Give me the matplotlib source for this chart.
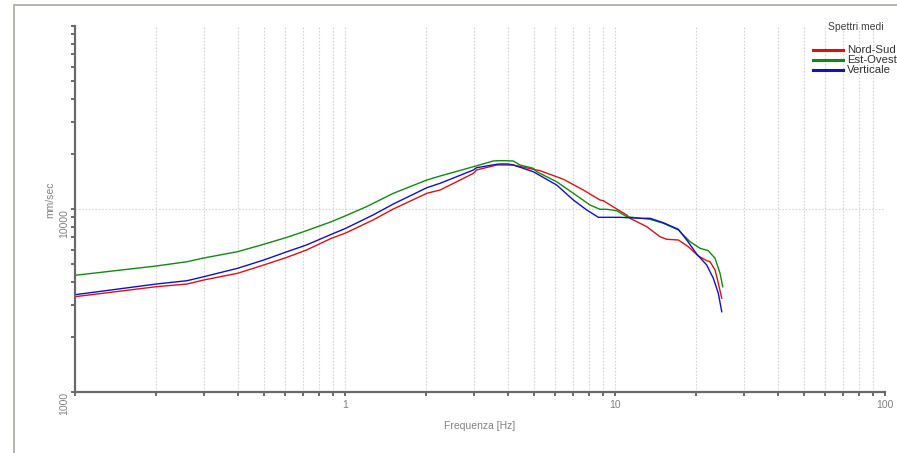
import matplotlib
matplotlib.use('Agg')
import matplotlib.pyplot as plt
from matplotlib.lines import Line2D
from matplotlib.patches import Rectangle
from matplotlib.ticker import FixedLocator, NullFormatter

plt.rcParams['font.family'] = ['Liberation Sans', 'DejaVu Sans']

# spettri medi (mm/sec)
f_ns = [0.1, 0.2, 0.26, 0.3, 0.4, 0.5, 0.61, 0.72, 0.89, 1.0, 1.27, 1.51, 2.01, 2.25, 2.67, 2.99,
        3.07, 3.65, 3.75, 4.01, 4.2, 4.98, 5.28, 6.44, 7.63, 8.8, 9.05, 10.15, 11.05, 11.36, 12.38,
        13.11, 14.68, 15.54, 17.16, 18.69, 20.35, 21.86, 22.49, 23.47, 24.14, 24.85]
ns = [3317, 3762, 3891, 4093, 4453, 4943, 5447, 5970, 6916, 7367, 8708, 10000, 12184, 12701, 14404,
      15669, 16333, 17395, 17395, 17395, 17395, 16477, 16192, 14532, 12701, 11199, 11102, 10000, 9273,
      8897, 8355, 8002, 7058, 6831, 6771, 6223, 5536, 5220, 5152, 4642, 3926, 3251]

f_eo = [0.1, 0.2, 0.26, 0.3, 0.4, 0.5, 0.61, 0.72, 0.89, 1.0, 1.2, 1.51, 2.01, 2.25, 2.52, 2.99,
        3.54, 3.65, 3.91, 4.2, 4.45, 4.98, 5.13, 6.08, 7.01, 8.08, 8.8, 9.32, 10.15, 11.05, 13.48,
        15.1, 17.16, 18.96, 20.64, 22.16, 23.47, 24.49, 25.06]
eo = [4342, 4882, 5152, 5399, 5844, 6414, 7004, 7612, 8524, 9157, 10292, 12184, 14404, 15147, 15867,
      17026, 18293, 18361, 18361, 18293, 17395, 16691, 15987, 14097, 12184, 10517, 9963, 9963, 9788,
      9076, 8784, 8355, 7679, 6628, 6100, 5917, 5378, 4453, 3762]

f_v = [0.1, 0.2, 0.26, 0.3, 0.4, 0.5, 0.61, 0.72, 0.89, 1.0, 1.27, 1.51, 2.01, 2.25, 2.59, 2.99,
       3.07, 3.65, 3.75, 4.01, 4.2, 4.98, 6.08, 7.01, 7.86, 8.68, 10.43, 12.38, 13.48, 15.1, 17.16,
       18.44, 20.07, 21.86, 23.13, 24.14, 24.85]
v = [3401, 3891, 4057, 4266, 4742, 5262, 5844, 6358, 7273, 7806, 9273, 10649, 13075, 13817, 15011,
     16333, 16815, 17551, 17620, 17620, 17395, 15987, 13525, 11199, 9874, 9007, 9007, 8897, 8897,
     8415, 7748, 6771, 5675, 4943, 4181, 3461, 2747]

series = [('Nord-Sud', f_ns, ns, '#e01010'),
          ('Est-Ovest', f_eo, eo, '#108a10'),
          ('Verticale', f_v, v, '#1010c8')]

grey = '#808080'
fig = plt.figure(figsize=(8.97, 4.53), dpi=100)
ax = fig.add_axes([75/897, 1-392/453, 810/897, 366/453])

for name, f, y, c in series:
    ax.plot(f, y, color=c, lw=1.0)

ax.set_xscale('log')
ax.set_yscale('log')
ax.set_xlim(0.1, 100)
ax.set_ylim(1000, 100000)

# griglia
xminor = [m * d for d in (0.1, 1, 10) for m in range(2, 10)]
for xv in xminor + [1, 10]:
    ax.axvline(xv, color='#d4d4d4', lw=0.8, ls=(0, (1.5, 1.5)), zorder=0)
ax.axhline(10000, color='#d4d4d4', lw=0.8, ls=(0, (1.5, 1.5)), zorder=0)

for s in ('top', 'right'):
    ax.spines[s].set_visible(False)
for s in ('left', 'bottom'):
    ax.spines[s].set_color('#6a6a6a')
    ax.spines[s].set_linewidth(1.6)

ax.xaxis.set_major_locator(FixedLocator([0.1, 1, 10, 100]))
ax.set_xticklabels(['', '1', '10', '100'])
ax.xaxis.set_minor_locator(FixedLocator(xminor))
ax.xaxis.set_minor_formatter(NullFormatter())
ax.yaxis.set_major_locator(FixedLocator([1000, 10000, 100000]))
ax.set_yticklabels(['1000', '10000', ''])
yminor = [m * d for d in (1000, 10000) for m in range(2, 10)]
ax.yaxis.set_minor_locator(FixedLocator(yminor))
ax.yaxis.set_minor_formatter(NullFormatter())

ax.tick_params(which='both', direction='out', length=3, width=1.4, color='#6a6a6a',
               labelcolor=grey, labelsize=7.5)
ax.tick_params(axis='x', pad=3)
ax.tick_params(axis='y', pad=1, labelrotation=90)
for lab in ax.get_yticklabels():
    lab.set_va('top')

fig.text(444/897, 1-426/453, 'Frequenza [Hz]', ha='left', va='center', fontsize=7.5, color=grey)
fig.text(50/897, 1-200/453, 'mm/sec', rotation=90, ha='center', va='center', fontsize=7.5, color=grey)

# legenda
fig.text(856/897, 1-27/453, 'Spettri medi', ha='center', va='center', fontsize=7.5, color='#404040')
for i, (name, f, y, c) in enumerate(series):
    yy = 1 - (50 + 10*i)/453
    fig.add_artist(Line2D([813/897, 843/897], [yy, yy], color=c, lw=2.2, transform=fig.transFigure))
    fig.text(847/897, yy, name, ha='left', va='center', fontsize=8.2, color='#303030')

# cornice
fig.add_artist(Rectangle((14/897, -0.1), 1.2, 1.1 - 5/453, fill=False,
                         edgecolor='#a8a8a0', lw=1.2, transform=fig.transFigure))

fig.savefig('out.png', dpi=100)
